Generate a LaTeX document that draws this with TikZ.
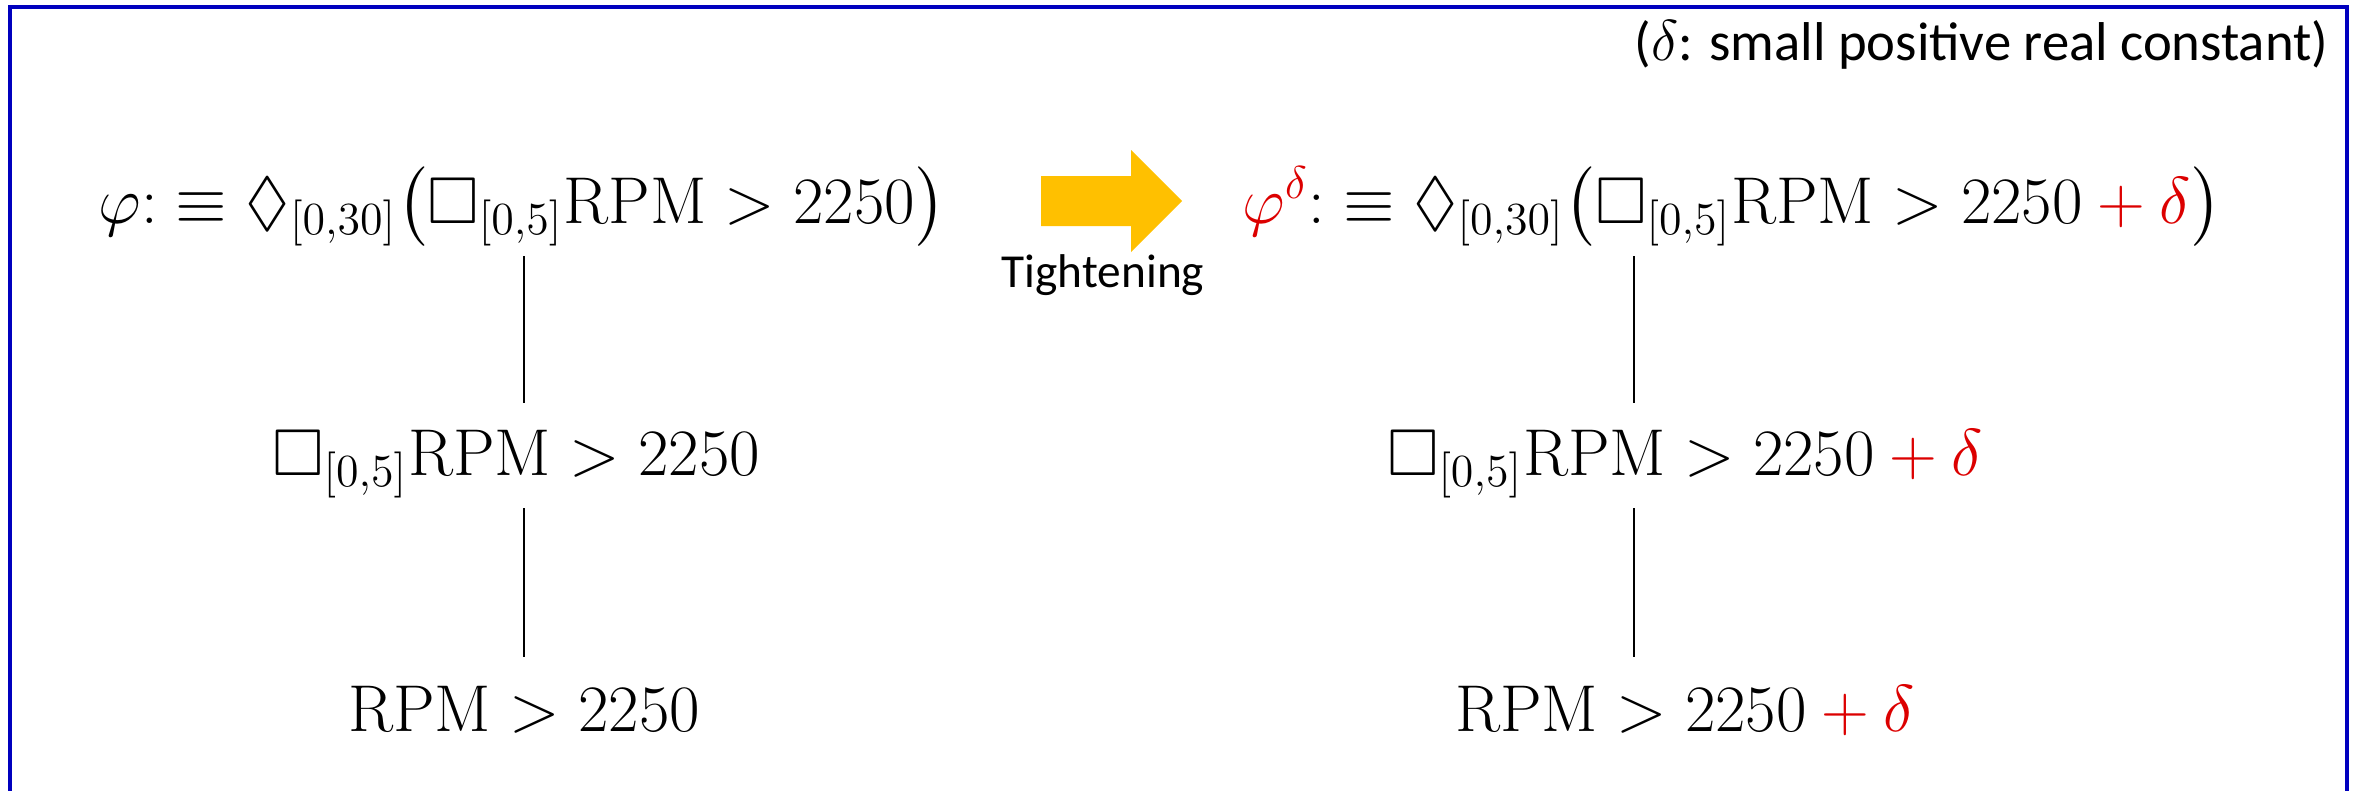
\documentclass[tikz,border=0pt]{standalone}
\usepackage{amsmath}
\usepackage{amssymb}
\usepackage{fontspec}
\newfontfamily\carl{Carlito}
\definecolor{frameblue}{RGB}{0,0,190}
\definecolor{tred}{RGB}{220,0,0}
\definecolor{gold}{RGB}{255,192,0}
\newcommand{\fml}[1]{\scalebox{1.15}{$#1$}}
\newcommand{\rplus}{\mathbin{\textcolor{tred}{+}}\textcolor{tred}{\delta}}
\begin{document}
\begin{tikzpicture}[x=0.3pt,y=-0.3pt,
  formula/.style={inner sep=0pt, outer sep=0pt, font=\fontsize{17.28}{24}\selectfont, anchor=base},
  tree/.style={line width=0.6pt, black},
  caption/.style={inner sep=0pt, font=\carl\fontsize{14.2}{17}\selectfont, anchor=base},
  note/.style={inner sep=0pt, font=\carl\fontsize{16.4}{19}\selectfont, anchor=base east},
  frame/.style={line width=1.2pt, frameblue}]
\useasboundingbox (0,0) rectangle (2359,790);
\draw[frame] (10,800) -- (10,7) -- (2347,7) -- (2347,800);

\coordinate (lx) at (524,0);
\coordinate (rx) at (1634,0);

\node[formula] (L1) at (522,223) {\fml{\varphi{:}\equiv\lozenge_{[0,30]}\bigl(\Box_{[0,5]}\mathrm{RPM} > 2250\bigr)}};
\node[formula] (L2) at (516,475) {\fml{\Box_{[0,5]}\mathrm{RPM} > 2250}};
\node[formula] (L3) at (524,731) {\fml{\mathrm{RPM} > 2250}};

\node[formula] (R1) at (1732,223) {\fml{\textcolor{tred}{\varphi^{\delta}}{:}\equiv\lozenge_{[0,30]}\bigl(\Box_{[0,5]}\mathrm{RPM} > 2250\rplus\bigr)}};
\node[formula] (R2) at (1685,475) {\fml{\Box_{[0,5]}\mathrm{RPM} > 2250\rplus}};
\node[formula] (R3) at (1685,731) {\fml{\mathrm{RPM} > 2250\rplus}};

\draw[tree, shorten <=9.9pt, shorten >=21.6pt] (lx |- L1.base) -- (lx |- L2.base);
\draw[tree, shorten <=9.9pt, shorten >=22.2pt] (lx |- L2.base) -- (lx |- L3.base);
\draw[tree, shorten <=9.9pt, shorten >=21.6pt] (rx |- R1.base) -- (rx |- R2.base);
\draw[tree, shorten <=9.9pt, shorten >=22.2pt] (rx |- R2.base) -- (rx |- R3.base);

\fill[gold] (1041,176) -- (1131,176) -- (1131,150) -- (1182,201) -- (1131,252) -- (1131,226) -- (1041,226) -- cycle;
\node[caption] (tight) at (1103,287) {Tightening};

\node[note] (note) at (2329,60) {($\delta$: small positive real constant)};
\end{tikzpicture}
\end{document}
